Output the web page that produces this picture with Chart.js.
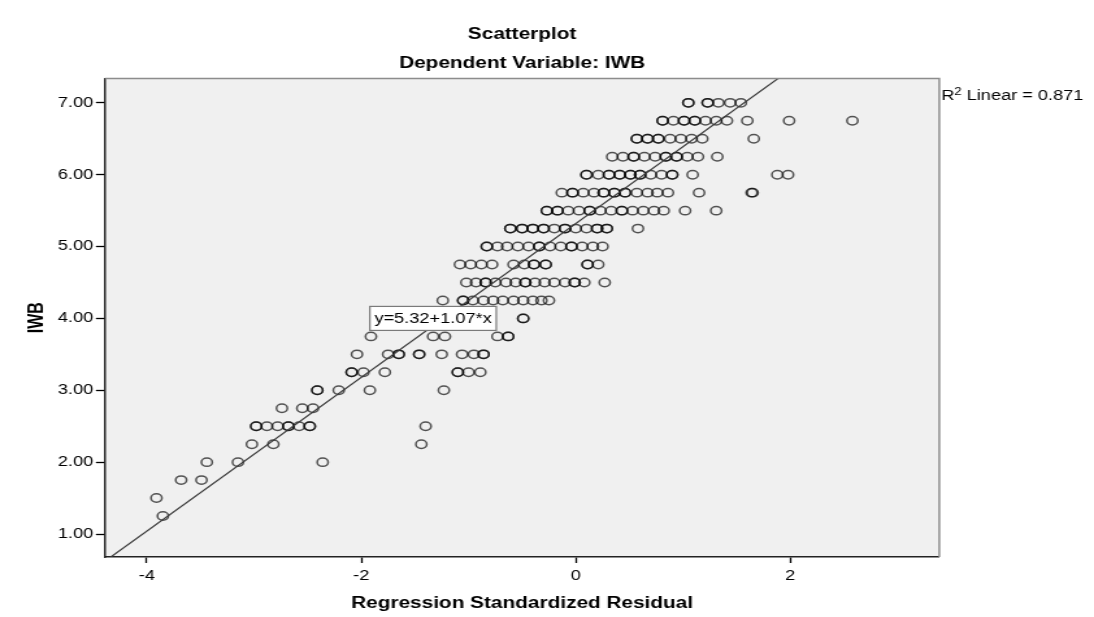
<!DOCTYPE html>
<html>
<head>
<meta charset="utf-8">
<script src="https://cdn.jsdelivr.net/npm/chart.js@4"></script>
<style>
  html, body { margin: 0; padding: 0; background: #fff; overflow: hidden; }
  /* the reference is stretched sideways, so the chart is drawn narrow and widened */
  #wrap { width: 842px; height: 617px; transform: scaleX(1.2993); transform-origin: 0 0; }
</style>
</head>
<body>
<div id="wrap"><canvas id="scatter" width="842" height="617"></canvas></div>
<script>
const iwbLevels = [7.00, 6.75, 6.50, 6.25, 6.00, 5.75, 5.50, 5.25, 5.00, 4.75, 4.50, 4.25,
                   4.00, 3.75, 3.50, 3.25, 3.00, 2.75, 2.50, 2.25, 2.00, 1.75, 1.50, 1.25];
const residuals = [
  [1.05, 1.05, 1.23, 1.23, 1.33, 1.44, 1.54],
  [0.81, 0.81, 0.91, 1.01, 1.01, 1.11, 1.11, 1.21, 1.31, 1.41, 1.60, 1.99, 2.58],
  [0.57, 0.57, 0.67, 0.67, 0.77, 0.77, 0.88, 0.98, 1.08, 1.18, 1.66],
  [0.34, 0.44, 0.54, 0.54, 0.64, 0.74, 0.84, 0.84, 0.94, 0.94, 1.04, 1.14, 1.32],
  [0.10, 0.10, 0.21, 0.31, 0.31, 0.41, 0.41, 0.51, 0.51, 0.60, 0.60, 0.70, 0.80, 0.90, 0.90, 1.09, 1.88, 1.98],
  [-0.13, -0.03, -0.03, 0.07, 0.17, 0.26, 0.26, 0.36, 0.36, 0.46, 0.46, 0.57, 0.67, 0.76, 0.86, 1.15, 1.64, 1.65],
  [-0.27, -0.27, -0.17, -0.17, -0.07, 0.03, 0.13, 0.13, 0.23, 0.33, 0.43, 0.43, 0.53, 0.63, 0.73, 0.82, 1.02, 1.31],
  [-0.61, -0.61, -0.50, -0.50, -0.40, -0.40, -0.30, -0.30, -0.20, -0.10, -0.10, 0.00, 0.10, 0.20, 0.20, 0.29, 0.29, 0.58],
  [-0.83, -0.83, -0.73, -0.64, -0.54, -0.44, -0.34, -0.34, -0.24, -0.14, -0.04, -0.04, 0.06, 0.16, 0.25],
  [-1.08, -0.98, -0.88, -0.78, -0.58, -0.48, -0.39, -0.39, -0.28, -0.28, 0.11, 0.11, 0.21],
  [-1.02, -0.93, -0.84, -0.84, -0.75, -0.65, -0.56, -0.47, -0.47, -0.38, -0.29, -0.20, -0.10, -0.01, -0.01, 0.08, 0.27],
  [-1.24, -1.05, -1.05, -0.96, -0.86, -0.77, -0.68, -0.58, -0.49, -0.40, -0.32, -0.25],
  [-0.49, -0.49],
  [-1.91, -1.33, -1.22, -0.73, -0.63, -0.63],
  [-2.04, -1.75, -1.65, -1.65, -1.46, -1.46, -1.25, -1.06, -0.95, -0.86, -0.86],
  [-2.09, -2.09, -1.98, -1.78, -1.10, -1.10, -1.00, -0.89],
  [-2.41, -2.41, -2.21, -1.92, -1.23],
  [-2.74, -2.55, -2.45],
  [-2.98, -2.98, -2.88, -2.78, -2.68, -2.68, -2.58, -2.48, -2.48, -1.40],
  [-3.02, -2.82, -1.44],
  [-3.44, -3.15, -2.36],
  [-3.68, -3.49],
  [-3.91],
  [-3.85]
];

// axis ranges and ticks
const xRange = [-4.39, 3.39];
const yRange = [0.68, 7.34];
const xTicks = [-4, -2, 0, 2];
const yTicks = [1, 2, 3, 4, 5, 6, 7];

// fit line and its labels
const fitIntercept = 5.32;
const fitSlope = 1.07;
const fitLabel = 'y=5.32+1.07*x';
const fitLabelAt = [-1.92, 4.0];
const rSquared = '0.871';

const points = [];
iwbLevels.forEach((lvl, i) => {
  residuals[i].forEach(r => points.push({ x: r, y: lvl }));
});
const fitLine = xRange.map(x => ({ x: x, y: fitIntercept + fitSlope * x }));

const FONT = "Arial, 'Liberation Sans', sans-serif";

const plotExtras = {
  id: 'plotExtras',
  beforeDraw(chart) {
    const { ctx, chartArea: a } = chart;
    ctx.save();
    ctx.fillStyle = '#f0f0f0';
    ctx.fillRect(a.left, a.top, a.right - a.left, a.bottom - a.top);
    ctx.restore();
  },
  afterDatasetsDraw(chart) {
    const { ctx, chartArea: a, scales } = chart;
    ctx.save();
    // top and right frame
    ctx.strokeStyle = '#8c8c8c';
    ctx.lineWidth = 1.5;
    ctx.beginPath();
    ctx.moveTo(a.left, a.top);
    ctx.lineTo(a.right, a.top);
    ctx.lineTo(a.right, a.bottom);
    ctx.stroke();

    // equation box
    ctx.font = '14px ' + FONT;
    const tw = ctx.measureText(fitLabel).width;
    const bx = scales.x.getPixelForValue(fitLabelAt[0]);
    const by = scales.y.getPixelForValue(fitLabelAt[1]);
    ctx.fillStyle = '#fff';
    ctx.fillRect(bx, by - 12, tw + 7, 24);
    ctx.strokeStyle = '#7a7a7a';
    ctx.lineWidth = 1.2;
    ctx.strokeRect(bx, by - 12, tw + 7, 24);
    ctx.fillStyle = '#000';
    ctx.textBaseline = 'middle';
    ctx.fillText(fitLabel, bx + 3.5, by + 1);

    // R² text right of the frame
    ctx.textBaseline = 'alphabetic';
    let tx = a.right + 1.5;
    const ty = a.top + 22;
    ctx.fillText('R', tx, ty);
    tx += ctx.measureText('R').width;
    ctx.font = '10px ' + FONT;
    ctx.fillText('2', tx, ty - 5);
    tx += ctx.measureText('2').width;
    ctx.font = '14px ' + FONT;
    ctx.fillText(' Linear = ' + rSquared, tx, ty);
    ctx.restore();
  }
};

new Chart(document.getElementById('scatter'), {
  type: 'scatter',
  data: {
    datasets: [
      {
        type: 'line',
        data: fitLine,
        borderColor: '#3a3a3a',
        borderWidth: 1.2,
        pointRadius: 0,
        fill: false
      },
      {
        data: points,
        pointStyle: 'circle',
        pointRadius: 4.2,
        pointBorderWidth: 1.5,
        pointBackgroundColor: 'rgba(0,0,0,0)',
        pointBorderColor: 'rgba(0,0,0,0.66)'
      }
    ]
  },
  options: {
    responsive: false,
    animation: false,
    devicePixelRatio: 1,
    layout: { padding: { left: 0, right: 38.3, top: 0, bottom: 0 } },
    plugins: {
      legend: { display: false },
      tooltip: { enabled: false },
      title: {
        display: true,
        text: 'Scatterplot',
        color: '#000',
        font: { family: FONT, size: 16, weight: 'bold' },
        padding: { top: 25, bottom: 10 }
      },
      subtitle: {
        display: true,
        text: 'Dependent Variable: IWB',
        color: '#000',
        font: { family: FONT, size: 16, weight: 'bold' },
        padding: { top: 0, bottom: 5 }
      }
    },
    scales: {
      x: {
        type: 'linear',
        position: 'bottom',
        min: xRange[0],
        max: xRange[1],
        afterBuildTicks: s => { s.ticks = xTicks.map(v => ({ value: v })); },
        afterFit: s => { s.height = 60; },
        ticks: {
          color: '#000',
          font: { family: FONT, size: 14 },
          padding: 5,
          maxRotation: 0,
          autoSkip: false,
          callback: v => String(v)
        },
        grid: { drawOnChartArea: false, drawTicks: true, tickLength: 6, tickColor: '#000', tickWidth: 1.3 },
        border: { display: true, color: '#222', width: 1.5 },
        title: {
          display: true,
          text: 'Regression Standardized Residual',
          color: '#000',
          font: { family: FONT, size: 16, weight: 'bold' },
          padding: { top: 0, bottom: 3.4 }
        }
      },
      y: {
        type: 'linear',
        position: 'left',
        min: yRange[0],
        max: yRange[1],
        afterBuildTicks: s => { s.ticks = yTicks.map(v => ({ value: v })); },
        afterFit: s => { s.width = 80.8; },
        ticks: {
          color: '#000',
          font: { family: FONT, size: 14 },
          padding: 2,
          autoSkip: false,
          callback: v => v.toFixed(2)
        },
        grid: { drawOnChartArea: false, drawTicks: true, tickLength: 7, tickColor: '#000', tickWidth: 1.3 },
        border: { display: true, color: '#222', width: 1.5 },
        title: {
          display: true,
          text: 'IWB',
          color: '#000',
          font: { family: FONT, size: 16, weight: 'bold' },
          padding: { top: 19.4, bottom: 0 }
        }
      },
      // empty box on the right so the titles centre over the plot
      yRight: {
        type: 'linear',
        position: 'right',
        display: true,
        afterFit: s => { s.width = 80.8; },
        ticks: { display: false },
        grid: { display: false },
        border: { display: false }
      }
    }
  },
  plugins: [plotExtras]
});
</script>
</body>
</html>
